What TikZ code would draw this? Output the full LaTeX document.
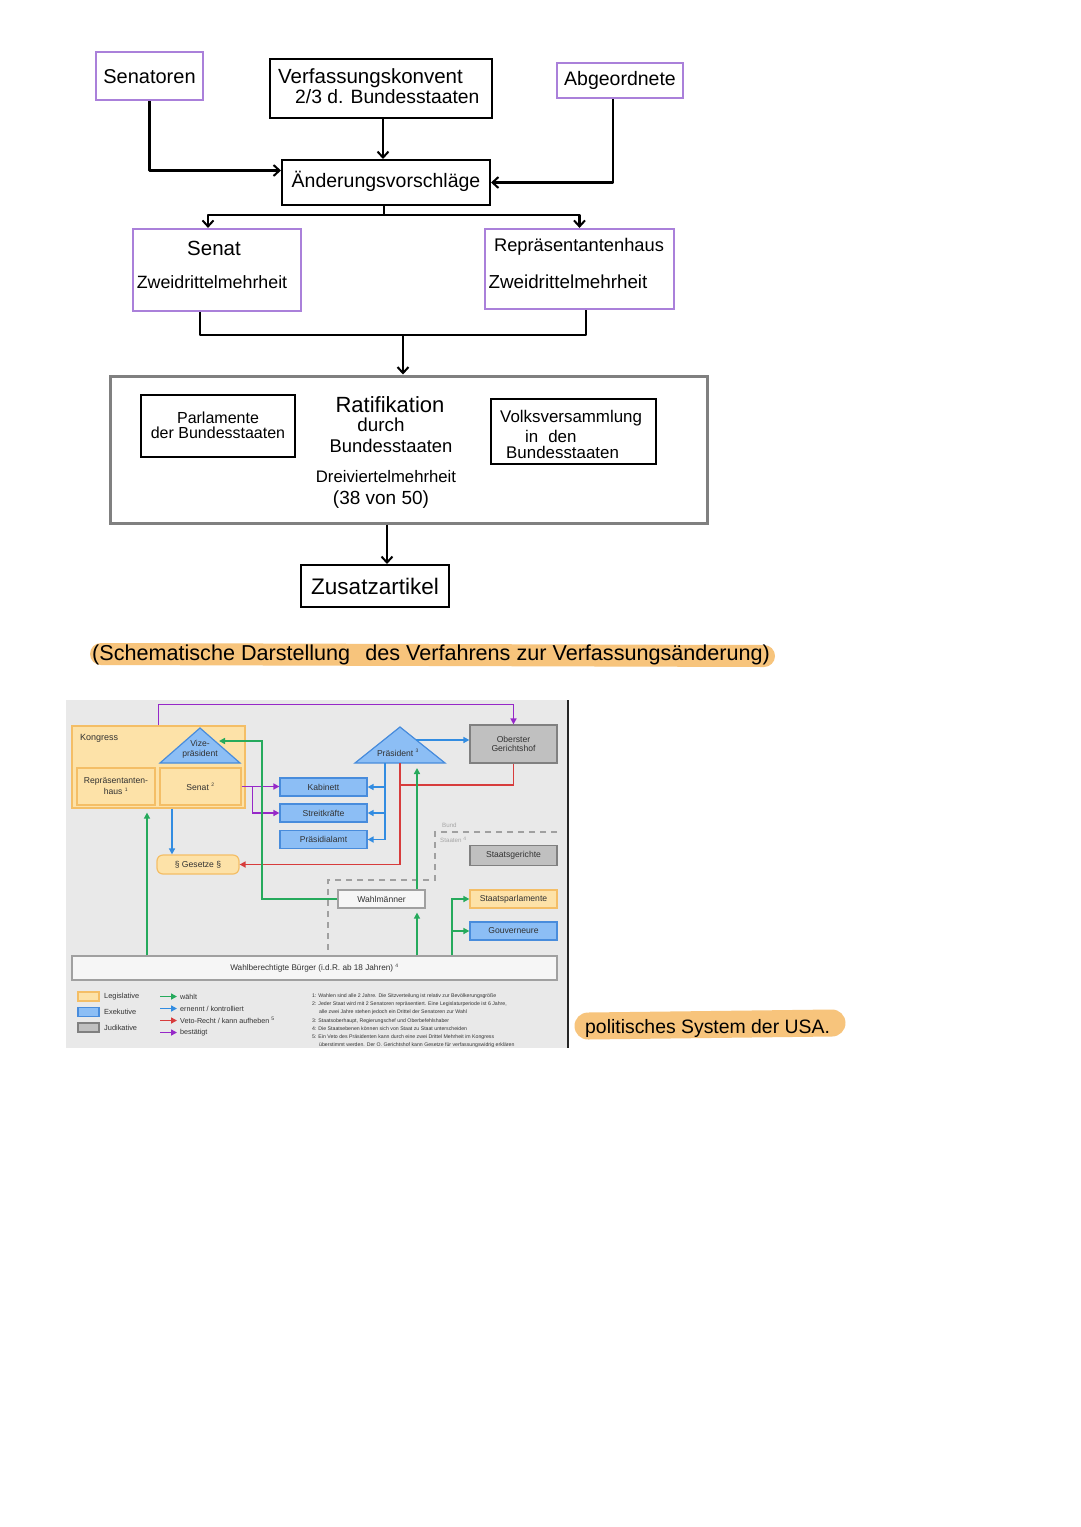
\documentclass[tikz,border=0pt]{standalone}
\usepackage{fontspec}
\setmainfont{Liberation Sans}
\usetikzlibrary{arrows.meta,calc}
\definecolor{hpurple}{RGB}{170,128,218}
\definecolor{hlorange}{RGB}{247,196,124}
\definecolor{ratgray}{RGB}{128,128,128}
\definecolor{bgg}{RGB}{233,233,233}
\definecolor{legfill}{RGB}{253,226,168}
\definecolor{legdraw}{RGB}{244,190,102}
\definecolor{exefill}{RGB}{140,190,245}
\definecolor{exedraw}{RGB}{72,140,220}
\definecolor{judfill}{RGB}{192,192,192}
\definecolor{juddraw}{RGB}{128,128,128}
\definecolor{wfill}{RGB}{246,246,246}
\definecolor{wdraw}{RGB}{160,160,160}
\definecolor{cgreen}{RGB}{38,170,92}
\definecolor{cblue}{RGB}{50,140,225}
\definecolor{cred}{RGB}{215,60,60}
\definecolor{cpurple}{RGB}{150,40,200}
\definecolor{dtext}{RGB}{50,50,50}
\begin{document}
\begin{tikzpicture}[x=1pt,y=-1pt,
  hw/.style={font=\fontsize{#1}{#1}\selectfont, inner sep=0pt, text=black},
  pbox/.style={draw=hpurple, line width=2.2pt},
  kbox/.style={draw=black, line width=2pt},
  hline/.style={line width=2.2pt, line join=round},
  harr/.style={line width=2.2pt, line join=round, -{Straight Barb[length=6pt,width=11pt,line width=2pt]}},
  df/.style={font=\fontsize{#1}{#1}\selectfont, text=dtext, inner sep=0pt},
  legbox/.style={fill=legfill, draw=legdraw, line width=1.2pt},
  exebox/.style={fill=exefill, draw=exedraw, line width=1.2pt},
  judbox/.style={fill=judfill, draw=juddraw, line width=1.2pt},
  wbox/.style={fill=wfill, draw=wdraw, line width=1.2pt},
  tip/.style={-{Triangle[length=6pt,width=6pt]}},
  garr/.style={draw=cgreen, line width=1.5pt, tip},
  barr/.style={draw=cblue, line width=1.5pt, tip},
  rarr/.style={draw=cred, line width=1.5pt, tip},
  parr/.style={draw=cpurple, line width=1.5pt, tip},
  dashline/.style={draw=wdraw, line width=1.3pt, dash pattern=on 6pt off 5pt}
]
\useasboundingbox (0,0) rectangle (1080,1527);
\fill[white] (0,0) rectangle (1080,1527);

% ---------------- top flow chart ----------------
\node[pbox, minimum width=107pt, minimum height=48pt] (sen) at (149.5,76) {};
\node[hw=20] (sentxt) at (149.5,77) {Senatoren};

\node[kbox, minimum width=222pt, minimum height=59pt] (vk) at (381,88.5) {};
\node[hw=20.5, anchor=west] (vk1) at (278,78) {Verfassungskonvent};
\node[hw=19.3, anchor=west] (vk2) at (295,97) {2/3 d. Bundesstaaten};

\node[pbox, minimum width=126pt, minimum height=35pt] (abg) at (620,80.5) {};
\node[hw=19.5] (abgtxt) at (620,80) {Abgeordnete};

\node[kbox, minimum width=208pt, minimum height=45pt] (aend) at (386,182.5) {};
\node[hw=19.5] (aendtxt) at (386,181) {Änderungsvorschläge};

\draw[harr] (sen.south) |- ([yshift=12pt]aend.west);
\draw[harr] ([xshift=2pt]vk.south) -- ([xshift=-3pt]aend.north);
\draw[harr] ([xshift=-7pt]abg.south) |- (aend.east);

\node[pbox, minimum width=168pt, minimum height=82pt] (senat) at (217,270) {};
\node[hw=20.5] (senat1) at (214,248) {Senat};
\node[hw=17.8] (senat2) at (212,282) {Zweidrittelmehrheit};

\node[pbox, minimum width=189pt, minimum height=80pt] (rep) at (579.5,269) {};
\node[hw=18.3] (rep1) at (579,247) {Repräsentantenhaus};
\node[hw=18.8] (rep2) at (568,282) {Zweidrittelmehrheit};

\coordinate (split) at (384,215);
\draw[hline] (aend.south -| split) -- (split);
\draw[harr] (split) -| ([xshift=-9pt]senat.north);
\draw[harr] (split) -| (rep.north);

\node[draw=ratgray, line width=3pt, minimum width=597pt, minimum height=147pt] (rat) at (408.5,449.5) {};
\node[kbox, minimum width=154pt, minimum height=62pt] (parl) at (218,426) {};
\node[hw=16, align=center] (parltxt) at (218,425.5) {Parlamente\\[-1pt]der Bundesstaaten};
\node[hw=22] (rat1) at (390,405) {Ratifikation};
\node[hw=18.8] (rat2) at (381,425) {durch};
\node[hw=18.4] (rat3) at (391,446) {Bundesstaaten};
\node[hw=16.7] (rat4) at (386,477) {Dreiviertelmehrheit};
\node[hw=19] (rat5) at (381,500) {(38 von 50)};
\node[kbox, minimum width=165pt, minimum height=65pt] (volk) at (573.5,431.5) {};
\node[hw=16.9, anchor=west] (volk1) at (500,418) {Volksversammlung};
\node[hw=16.9, anchor=west] (volk2) at (525,436) {in\hspace{10pt}den};
\node[hw=16.9, anchor=west] (volk3) at (506,452) {Bundesstaaten};

\coordinate (merge) at (403,335);
\draw[hline] ([xshift=-17pt]senat.south) |- (merge);
\draw[hline] ([xshift=6.5pt]rep.south) |- (merge);
\draw[harr] (merge) -- (merge |- rat.north);

\node[kbox, minimum width=148pt, minimum height=42pt] (zus) at (375,586) {};
\node[hw=22.5] (zustxt) at (375,586) {Zusatzartikel};
\draw[harr] ([xshift=12pt]zus.north |- rat.south) -- ([xshift=12pt]zus.north);

% caption 1
\draw[hlorange, line width=22pt, line cap=round] (101,654) -- (764,656);
\node[hw=21.6, anchor=west] (cap1) at (92,655) {(Schematische Darstellung\hspace{9pt} des Verfahrens zur Verfassungsänderung)};

% ---------------- embedded diagram ----------------
\fill[bgg] (66,700) rectangle (567,1048);
\draw[line width=2pt, black!85] (567.5,700) -- (567.5,1048);

\node[legbox, minimum width=173pt, minimum height=82pt] (kong) at (158.5,767) {};
\node[df=9, anchor=west] (kongtxt) at (80,738.5) {Kongress};
\node[legbox, minimum width=78pt, minimum height=37pt, df=8.6, align=center] (rh) at (116,786.5) {Repräsentanten-\\[1pt]haus \textsuperscript{\tiny 1}};
\node[legbox, minimum width=81pt, minimum height=37pt, df=8.6] (sn) at (200.5,786.5) {Senat \textsuperscript{\tiny 2}};
\filldraw[fill=exefill, draw=exedraw, line width=1.2pt] (160,763) -- (200,728) -- (240,763) -- cycle;
\node[df=8.6, align=center] (vp) at (200,749) {Vize-\\[1pt]präsident};
\coordinate (vpR) at (219,741);

\node[judbox, minimum width=87pt, minimum height=38pt, df=8.6, align=center] (ogh) at (513.5,744) {Oberster\\[1pt]Gerichtshof};
\filldraw[fill=exefill, draw=exedraw, line width=1.2pt] (355,763) -- (400,727) -- (445,763) -- cycle;
\node[df=8.6] (pr) at (398,752.5) {Präsident \textsuperscript{\tiny 3}};
\coordinate (prR) at (416,740);

\node[exebox, minimum width=87pt, minimum height=18pt, df=8.6] (kab) at (323.5,787) {Kabinett};
\node[exebox, minimum width=87pt, minimum height=18pt, df=8.6] (str) at (323.5,813) {Streitkräfte};
\node[exebox, minimum width=87pt, minimum height=18pt, df=8.6] (pra) at (323.5,839.5) {Präsidialamt};

\node[legbox, rounded corners=6pt, minimum width=82pt, minimum height=19pt, df=8.6] (ges) at (198,864.5) {§ Gesetze §};

\node[judbox, minimum width=87pt, minimum height=20pt, df=8.6] (sg) at (513.5,855.5) {Staatsgerichte};
\node[wbox, minimum width=87pt, minimum height=18pt, df=8.6] (wm) at (381.5,899) {Wahlmänner};
\node[legbox, minimum width=87pt, minimum height=18pt, df=8.6] (sp) at (513.5,899) {Staatsparlamente};
\node[exebox, minimum width=87pt, minimum height=18pt, df=8.6] (gv) at (513.5,931) {Gouverneure};
\node[wbox, minimum width=485pt, minimum height=24pt, df=8.2] (bg) at (314.5,968) {Wahlberechtigte Bürger (i.d.R. ab 18 Jahren) \textsuperscript{\tiny 4}};

% dashed boundary Bund / Staaten
\draw[dashline] (557,832) -- (435,832) -- (435,880) -- (328,880) -- (328,955);
\node[df=6.2, text=black!35, anchor=west] (bund) at (442,825) {Bund};
\node[df=6.2, text=black!35, anchor=west] (staaten) at (440,840) {Staaten \textsuperscript{\tiny 4}};

% purple
\draw[parr] (kong.north) -- ++(0,-21) -| (ogh.north);
\draw[parr] (sn.east) -- (sn.east -| kab.west);
\draw[parr] ([xshift=11pt]sn.east) |- (str.west);
% blue
\draw[barr] (prR) -- (prR -| ogh.west);
\coordinate (bv) at (385,763);
\draw[barr] (bv) |- (kab.east);
\draw[barr] (bv) |- (str.east);
\draw[barr] (bv) |- (pra.east);
\draw[barr] ([xshift=13.5pt]kong.south) -- ([xshift=-26pt]ges.north);
% red
\coordinate (rv) at (400,763);
\draw[rarr] (rv) |- (ges.east);
\draw[draw=cred, line width=1.5pt] (ogh.south) |- (400,785);
% green
\draw[garr] ([xshift=-167.5pt]bg.north) -- ([xshift=-11.5pt,yshift=-4pt]kong.south);
\draw[garr] (wm.west) -| (262,741) -- (vpR);
\draw[garr] ([xshift=35.5pt]wm.north) -- (417,768);
\draw[garr] ([xshift=102.5pt]bg.north) -- ([xshift=35.5pt,yshift=-4pt]wm.south);
\draw[garr] ([xshift=137.5pt]bg.north) |- (sp.west);
\draw[garr] ([xshift=137.5pt]gv.west -| bg.north) -- (gv.west);

% legend
\node[legbox, minimum width=21pt, minimum height=9pt] (l1) at (88.5,996.5) {};
\node[exebox, minimum width=21pt, minimum height=9pt] (l2) at (88.5,1012) {};
\node[judbox, minimum width=21pt, minimum height=9pt] (l3) at (88.5,1027.5) {};
\node[df=7.4, anchor=west] (l1t) at (104,996.5) {Legislative};
\node[df=7.4, anchor=west] (l2t) at (104,1012) {Exekutive};
\node[df=7.4, anchor=west] (l3t) at (104,1027.5) {Judikative};
\coordinate (a1) at (160,996.5); \coordinate (a1e) at (177,996.5);
\coordinate (a2) at (160,1008.5); \coordinate (a2e) at (177,1008.5);
\coordinate (a3) at (160,1020.5); \coordinate (a3e) at (177,1020.5);
\coordinate (a4) at (160,1032.5); \coordinate (a4e) at (177,1032.5);
\draw[garr] (a1) -- (a1e);
\draw[barr] (a2) -- (a2e);
\draw[rarr] (a3) -- (a3e);
\draw[parr] (a4) -- (a4e);
\node[df=7.2, anchor=west] (a1t) at (180,996.5) {wählt};
\node[df=7.2, anchor=west] (a2t) at (180,1008.5) {ernennt / kontrolliert};
\node[df=7.2, anchor=west] (a3t) at (180,1020.5) {Veto-Recht / kann aufheben \textsuperscript{\tiny 5}};
\node[df=7.2, anchor=west] (a4t) at (180,1032.5) {bestätigt};

% footnotes
\node[df=5.2, anchor=west] (f1) at (312,996) {1: Wahlen sind alle 2 Jahre. Die Sitzverteilung ist relativ zur Bevölkerungsgröße};
\node[df=5.2, anchor=west] (f2) at (312,1004) {2: Jeder Staat wird mit 2 Senatoren repräsentiert. Eine Legislaturperiode ist 6 Jahre,};
\node[df=5.2, anchor=west] (f2b) at (319,1012) {alle zwei Jahre stehen jedoch ein Drittel der Senatoren zur Wahl};
\node[df=5.2, anchor=west] (f3) at (312,1021) {3: Staatsoberhaupt, Regierungschef und Oberbefehlshaber};
\node[df=5.2, anchor=west] (f4) at (312,1029) {4: Die Staatsebenen können sich von Staat zu Staat unterscheiden};
\node[df=5.2, anchor=west] (f5) at (312,1037) {5: Ein Veto des Präsidenten kann durch eine zwei Drittel Mehrheit im Kongress};
\node[df=5.2, anchor=west] (f5b) at (319,1045) {überstimmt werden. Der O. Gerichtshof kann Gesetze für verfassungswidrig erklären};

% caption 2
\draw[hlorange, line width=27pt, line cap=round] (588,1026) -- (832,1023);
\node[hw=19.4, anchor=west] (cap2) at (585,1028) {politisches System der USA.};
\end{tikzpicture}
\end{document}
